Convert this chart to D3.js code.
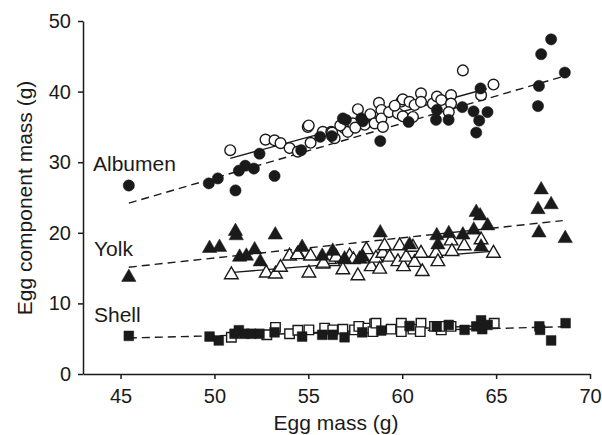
<!DOCTYPE html>
<html>
<head>
<meta charset="utf-8">
<script src="https://cdn.jsdelivr.net/npm/d3@7"></script>
<style>
  body { margin: 0; background: #fff; }
  text { font-family: "Liberation Sans", Arial, sans-serif; fill: #1a1a1a; }
</style>
</head>
<body>
<script>
// Chart size
var svgWidth = 602;
var svgHeight = 435;

// Tick labels
var xTicks = [45, 50, 55, 60, 65, 70];
var yTicks = [0, 10, 20, 30, 40, 50];

// Group labels
var groupNames = ["Albumen", "Yolk", "Shell"];

// Data: [egg mass, component mass]
var albumenFilled = [[45.44,26.7],[49.7,27.0],[50.18,27.7],[51.12,26.0],[51.3,28.8],[51.64,29.5],[52.1,29.1],
  [52.4,31.2],[53.2,28.05],[54.62,31.7],[55.63,33.6],[56.25,33.7],[56.84,36.2],[57.0,36.0],[57.82,36.2],
  [57.9,35.8],[58.83,33.0],[60.34,35.7],[61.85,37.4],[61.8,36.0],[62.47,36.0],[63.2,37.8],[63.8,37.2],
  [64.17,40.45],[64.1,35.9],[63.94,34.2],[64.54,37.1],[67.28,40.8],[67.23,37.95],[67.4,45.3],[67.93,47.4],[68.66,42.7]];

var albumenOpen = [[50.84,31.7],[52.72,33.2],[53.2,33.1],[53.52,32.7],[54.0,32.0],[54.44,31.5],[54.97,35.0],
  [55.02,35.2],[55.12,32.75],[55.77,34.3],[56.22,34.3],[56.4,33.4],[56.27,34.2],[56.93,34.8],[57.1,34.3],
  [57.64,37.5],[57.37,35.5],[58.0,35.3],[58.3,36.8],[58.53,35.5],[58.76,38.4],[58.89,37.4],[58.89,36.2],
  [58.97,35.0],[59.3,37.1],[59.77,36.9],[59.95,38.6],[60.03,38.9],[60.03,36.5],[60.39,38.55],[60.66,38.1],
  [61.0,39.75],[61.0,38.55],[60.57,36.4],[61.63,38.3],[61.85,39.3],[62.08,38.8],[62.6,39.5],[62.6,38.3],
  [62.48,37.1],[63.23,43.0],[64.2,39.5],[64.86,41.0],[56.7,35.2],[57.5,34.9],[59.6,38.0]];

var yolkFilled = [[45.44,13.7],[49.74,17.8],[50.27,17.95],[51.12,20.2],[51.16,19.6],[51.34,16.55],[51.7,16.7],
  [52.14,17.6],[52.44,15.9],[53.24,19.7],[54.67,17.95],[55.74,16.7],[56.3,17.4],[56.93,16.3],[57.73,16.3],
  [57.9,16.55],[58.83,20.0],[60.39,18.3],[61.84,19.6],[61.9,18.3],[62.48,19.9],[63.23,19.7],[63.81,20.4],
  [63.94,22.9],[64.15,22.4],[64.2,18.0],[64.55,21.0],[67.4,26.1],[67.23,23.3],[67.93,24.0],[67.28,20.0],[68.68,19.2]];

var yolkOpen = [[50.9,14.05],[52.76,14.3],[53.25,14.15],[53.52,15.1],[54.0,16.7],[54.44,17.0],[55.03,14.3],
  [55.12,16.7],[55.77,15.55],[56.3,15.9],[56.13,16.2],[56.84,14.75],[57.2,16.7],[57.64,13.9],[58.09,17.6],
  [58.35,15.2],[58.6,16.4],[58.8,14.85],[58.97,17.1],[59.06,18.15],[59.32,16.55],[59.77,15.9],[59.86,18.15],
  [60.07,15.2],[60.21,16.55],[60.57,17.95],[60.66,15.8],[61.0,17.1],[61.07,14.5],[61.8,17.1],[61.9,15.9],
  [62.6,18.85],[62.65,17.35],[63.3,18.15],[64.2,19.0],[64.86,17.1],[56.48,16.55],[57.9,16.3],[54.42,16.9],
  [55.8,15.7],[57.4,16.2]];

var shellFilled = [[45.44,5.4],[49.74,5.3],[50.23,4.75],[51.07,5.7],[51.3,6.2],[51.6,5.7],[51.96,5.7],
  [52.4,5.7],[53.2,5.9],[54.67,5.3],[55.74,5.55],[56.3,5.55],[56.93,5.2],[57.87,5.9],[58.88,6.15],[60.39,6.8],
  [61.84,6.75],[62.48,6.95],[63.32,6.25],[63.94,6.75],[64.2,7.6],[64.26,6.35],[64.55,6.95],[67.3,6.75],
  [67.34,6.25],[67.93,4.75],[68.7,7.2]];

var shellOpen = [[50.9,5.2],[52.79,5.55],[53.25,6.6],[54.0,5.7],[54.44,6.2],[55.03,6.25],[55.87,6.5],
  [56.3,6.25],[56.84,6.35],[57.46,6.25],[57.69,6.75],[58.17,6.5],[58.53,7.1],[58.44,6.0],[59.41,6.35],
  [59.95,7.2],[59.95,6.0],[60.57,6.35],[61.0,7.2],[60.96,6.0],[61.72,6.75],[62.08,6.25],[62.6,6.75],
  [62.0,6.75],[64.9,7.2],[58.6,7.2]];

// Fitted lines: [start, end]
var albumenFilledFit = [[45.44,24.2],[68.64,42.2]];
var albumenOpenFit = [[50.84,30.55],[64.5,40.4]];
var yolkFilledFit = [[45.44,15.13],[68.55,21.73]];
var yolkOpenFit = [[51.0,14.4],[64.9,17.4]];
var shellFilledFit = [[45.44,5.1],[68.6,6.7]];
var shellOpenFit = [[51.0,5.4],[65.0,6.9]];

var svg = d3.select("body")
  .append("svg")
  .attr("width", svgWidth)
  .attr("height", svgHeight);

var xScale = d3.scaleLinear().domain([43, 70]).range([83, 590]);
var yScale = d3.scaleLinear().domain([0, 50]).range([374, 21]);

// Axes
var xAxis = d3.axisBottom(xScale).tickValues(xTicks).tickSize(5).tickSizeOuter(0).tickPadding(10);
var yAxis = d3.axisLeft(yScale).tickValues(yTicks).tickSize(5).tickSizeOuter(0).tickPadding(7);

var gx = svg.append("g").attr("transform", "translate(0,374)").call(xAxis);
var gy = svg.append("g").attr("transform", "translate(83,0)").call(yAxis);

[gx, gy].forEach(function(g) {
  g.select(".domain").attr("stroke", "#1a1a1a").attr("stroke-width", 1.5);
  g.selectAll(".tick line").attr("stroke", "#1a1a1a").attr("stroke-width", 1.5);
  g.selectAll(".tick text")
    .style("font-family", "'Liberation Sans', Arial, sans-serif")
    .style("font-size", "20px")
    .attr("fill", "#1a1a1a");
});

// Axis titles
svg.append("text")
  .attr("x", 336)
  .attr("y", 430)
  .attr("text-anchor", "middle")
  .style("font-size", "21px")
  .text("Egg mass (g)");

svg.append("text")
  .attr("transform", "translate(32,198) rotate(-90)")
  .attr("text-anchor", "middle")
  .style("font-size", "21px")
  .text("Egg component mass (g)");

// Group labels
var labelPos = [[93, 171], [94, 256], [94, 322]];
svg.selectAll(".group-label")
  .data(groupNames)
  .enter()
  .append("text")
  .attr("class", "group-label")
  .attr("x", (d, i) => labelPos[i][0])
  .attr("y", (d, i) => labelPos[i][1])
  .style("font-size", "21px")
  .text(d => d);

// Fit lines (under the markers)
var line = d3.line().x(d => xScale(d[0])).y(d => yScale(d[1]));

var fits = [
  { pts: albumenFilledFit, dash: "8,5" },
  { pts: albumenOpenFit, dash: null },
  { pts: yolkFilledFit, dash: "8,5" },
  { pts: yolkOpenFit, dash: null },
  { pts: shellFilledFit, dash: "8,5" },
  { pts: shellOpenFit, dash: null }
];

svg.selectAll(".fit")
  .data(fits)
  .enter()
  .append("path")
  .attr("class", "fit")
  .attr("d", d => line(d.pts))
  .attr("fill", "none")
  .attr("stroke", "#1a1a1a")
  .attr("stroke-width", 1.4)
  .attr("stroke-dasharray", d => d.dash);

// Markers
function drawPoints(data, symbolType, size, filled) {
  var sym = d3.symbol().type(symbolType).size(size);
  svg.append("g")
    .selectAll("path")
    .data(data)
    .enter()
    .append("path")
    .attr("transform", d => `translate(${xScale(d[0])},${yScale(d[1])})`)
    .attr("d", sym)
    .attr("fill", filled ? "#1a1a1a" : "#fff")
    .attr("stroke", "#1a1a1a")
    .attr("stroke-width", filled ? 0.5 : 1.4);
}

drawPoints(albumenOpen, d3.symbolCircle, 90, false);
drawPoints(albumenFilled, d3.symbolCircle, 100, true);
drawPoints(yolkOpen, d3.symbolTriangle, 80, false);
drawPoints(yolkFilled, d3.symbolTriangle, 90, true);
drawPoints(shellOpen, d3.symbolSquare, 90, false);
drawPoints(shellFilled, d3.symbolSquare, 95, true);
</script>
</body>
</html>
